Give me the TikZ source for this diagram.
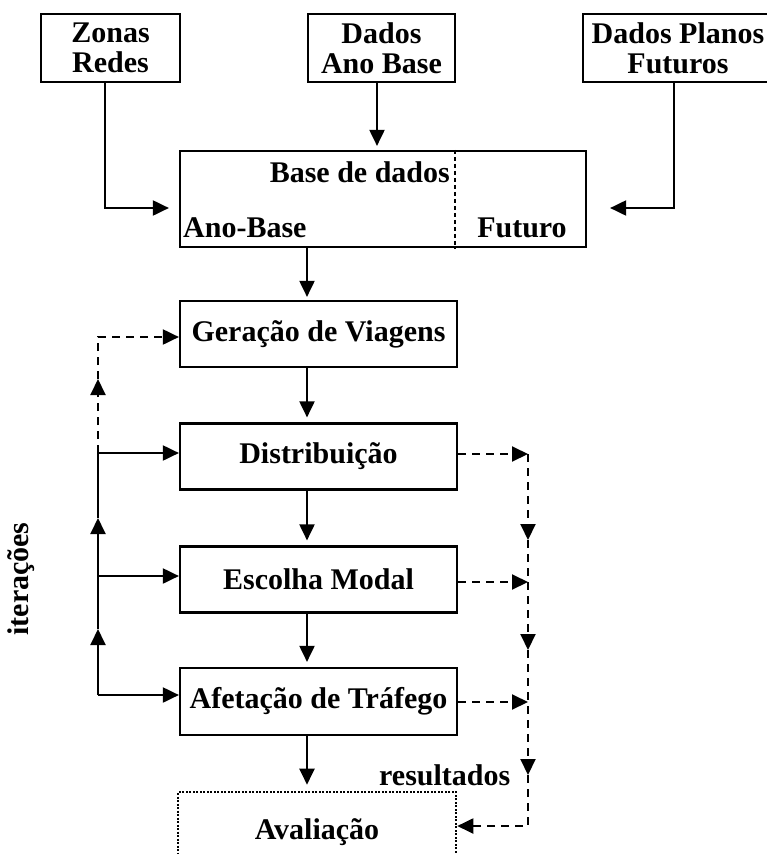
\documentclass[tikz,border=0pt]{standalone}
\usepackage{fontspec}
\setmainfont{Liberation Serif}
\usetikzlibrary{arrows.meta,calc}
\begin{document}
\begin{tikzpicture}[x=1pt,y=-1pt,
  txt/.style={font=\fontsize{30}{30}\selectfont\bfseries, inner sep=1pt},
  box/.style={txt, draw, line width=2.2pt, align=center, minimum width=#1, minimum height=66pt},
  arr/.style={line width=2pt, -{Triangle[length=16pt,width=15pt]}},
  ln/.style={line width=2pt},
  dsh/.style={line width=2pt, dash pattern=on 8pt off 6pt},
  darr/.style={dsh, -{Triangle[length=16pt,width=15pt]}},
]
\useasboundingbox (0,0) rectangle (767,854);
\clip (0,0) rectangle (767,854);

% top boxes
\node[box=139pt, minimum height=68pt] (zonas) at (110.5,48) {Zonas\\Redes};
\node[box=147pt, minimum height=68pt] (dadosab) at (381.5,48) {Dados\\Ano Base};
\node[box=190pt, minimum height=68pt] (planos) at (678,48) {Dados Planos\\Futuros};

% database box
\node[draw, line width=2.2pt, minimum width=406pt, minimum height=96pt] (base) at (383,199) {};
\coordinate (div) at (455,0);
\draw[line width=2pt, dash pattern=on 4pt off 3pt] (base.north -| div) -- (base.south -| div);
\node[txt, anchor=east] (bdd) at (451,172) {Base de dados};
\node[txt, anchor=west] (anob) at (182,228) {Ano-Base};
\node[txt] (fut) at (522,228) {Futuro};

% process boxes
\node[box=277pt] (gera) at (318.5,334) {Geração de Viagens};
\node[box=277pt] (dist) at (318.5,456.5) {Distribuição};
\node[box=277pt] (esc) at (318.5,579.5) {Escolha Modal};
\node[box=277pt, minimum height=67pt] (afet) at (318.5,701.5) {Afetação de Tráfego};
\node[txt, draw, line width=2.6pt, dash pattern=on 2pt off 1.5pt, minimum width=278pt, minimum height=80pt] (aval) at (317,832) {Avaliação};

% inputs to database
\coordinate (c1) at (105,208);
\coordinate (c2) at (377,0);
\coordinate (c3) at (674,208);
\draw[arr] (zonas.south -| c1) |- ($(base.west |- c1)+(-10,0)$);
\draw[arr] (dadosab.south -| c2) -- ($(base.north -| c2)+(0,-4)$);
\draw[arr] (planos.south -| c3) |- ($(base.east |- c3)+(23,0)$);

% main column
\coordinate (col) at (307,0);
\draw[arr] (base.south -| col) -- ($(gera.north -| col)+(0,-3)$);
\draw[arr] (gera.south -| col) -- ($(dist.north -| col)+(0,-5)$);
\draw[arr] (dist.south -| col) -- ($(esc.north -| col)+(0,-5)$);
\draw[arr] (esc.south -| col) -- ($(afet.north -| col)+(0,-5)$);
\draw[arr] (afet.south -| col) -- ($(aval.north -| col)+(0,-6)$);

% left iteration loop
\coordinate (lg) at (98,337);
\coordinate (ld) at (98,453);
\coordinate (le) at (98,576);
\coordinate (la) at (98,695);
\coordinate (m1) at (98,629);
\coordinate (m2) at (98,518);
\coordinate (m3) at (98,379);
\draw[arr] (la) -- (m1);
\draw[ln] (m1) -- (le);
\draw[arr] (le) -- (m2);
\draw[ln] (m2) -- (ld);
\draw[darr] (ld) -- (m3);
\draw[darr] (m3) |- (gera.west |- lg);
\draw[arr] (ld) -- (dist.west |- ld);
\draw[arr] (le) -- (esc.west |- le);
\draw[arr] (la) -- (afet.west |- la);
\node[txt, rotate=90] (iter) at (21,579) {iterações};

% right results line
\coordinate (rd) at (528,454);
\coordinate (re) at (528,582);
\coordinate (ra) at (528,702);
\coordinate (rb) at (528,826);
\coordinate (r1) at (528,540);
\coordinate (r2) at (528,650);
\coordinate (r3) at (528,775);
\draw[darr] (dist.east |- rd) -- (rd);
\draw[darr] (esc.east |- re) -- (re);
\draw[darr] (afet.east |- ra) -- (ra);
\draw[darr] (rd) -- (r1);
\draw[darr] (r1) -- (r2);
\draw[darr] (r2) -- (r3);
\draw[darr] (r3) |- (aval.east |- rb);
\node[txt, anchor=west] (res) at (378,775) {resultados};
\end{tikzpicture}
\end{document}
